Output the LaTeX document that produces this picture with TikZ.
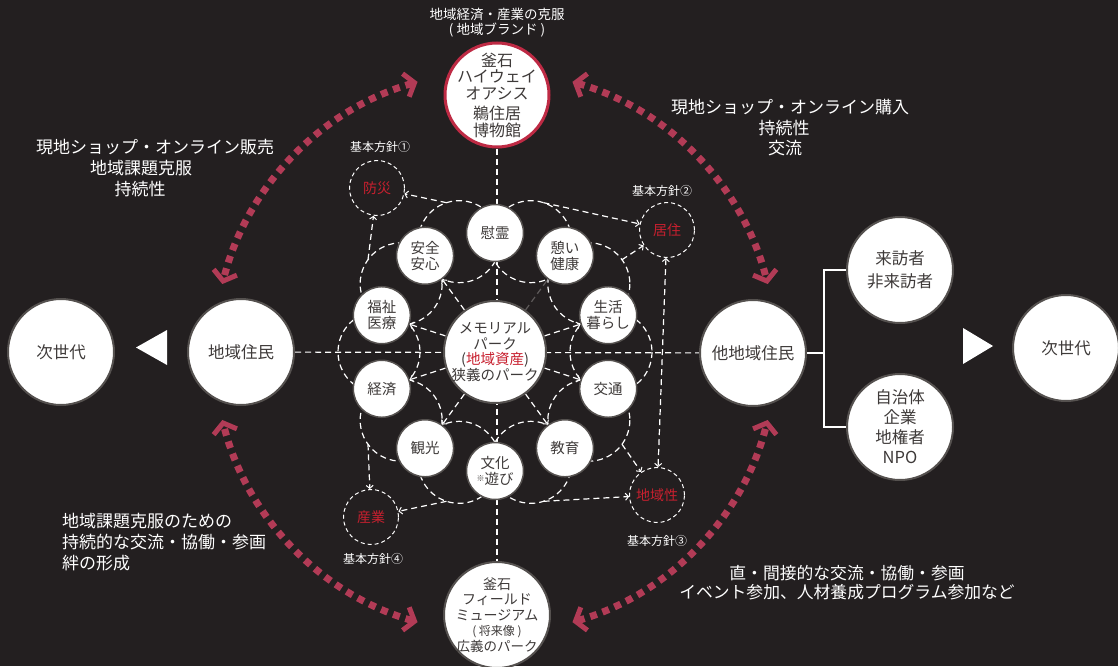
\documentclass[tikz,border=0pt]{standalone}
\usepackage{fontspec}
\setmainfont{Noto Sans CJK JP}
\usetikzlibrary{arrows.meta,calc}
\definecolor{bgc}{HTML}{231F20}
\definecolor{ink}{HTML}{3E3A39}
\definecolor{redt}{HTML}{C8202F}
\definecolor{dotc}{HTML}{B23B56}
\definecolor{ringc}{HTML}{BE2A44}
\definecolor{edgec}{HTML}{55514F}
\definecolor{greyd}{HTML}{5E5A5A}
\pgfdeclarelayer{bgl}
\pgfdeclarelayer{lines}
\pgfsetlayers{bgl,lines,main}
\tikzset{
  bigc/.style={circle,fill=white,draw=edgec,line width=2pt,minimum size=106pt,inner sep=0pt,text=ink,align=center,font=\fontsize{16.5}{20}\selectfont},
  smallc/.style={circle,fill=white,draw=edgec,line width=1.5pt,minimum size=57pt,inner sep=0pt,text=ink,align=center,font=\fontsize{14.5}{16}\selectfont},
  policyc/.style={circle,draw=white,dash pattern=on 4pt off 3pt,line width=1pt,minimum size=55pt,inner sep=0pt,text=redt,font=\fontsize{14}{16}\selectfont},
  wtext/.style={text=white,inner sep=0pt,align=center,font=\fontsize{17}{21}\selectfont},
  stext/.style={text=white,inner sep=0pt,font=\fontsize{12}{14}\selectfont},
  dline/.style={draw=white,line width=1.2pt,dash pattern=on 6pt off 4pt},
  darr/.style={dline,-{Straight Barb[length=3pt,width=7pt,line width=1pt]}},
  dboth/.style={dline,{Straight Barb[length=3pt,width=7pt,line width=1pt]}-{Straight Barb[length=3pt,width=7pt,line width=1pt]}},
  pairc/.style={draw=white,line width=1.2pt,dash pattern=on 6pt off 4pt},
  redarc/.style={draw=dotc,line width=7pt,dash pattern=on 7pt off 6pt,{Straight Barb[length=9pt,width=24pt,line width=5pt]}-{Straight Barb[length=9pt,width=24pt,line width=5pt]}},
  bracket/.style={draw=white,line width=2pt},
  tri/.style={fill=white,draw=none},
}
\begin{document}
\begin{tikzpicture}[x=1pt,y=-1pt]
\begin{pgfonlayer}{bgl}
\fill[bgc] (0,0) rectangle (1118,666);
\end{pgfonlayer}
\useasboundingbox (0,0) rectangle (1118,666);
\coordinate (C) at (495,352);

% main big circles
\node[bigc,draw=ringc,line width=3pt,minimum size=104pt,inner sep=-20pt,font=\fontsize{16}{16.5}\selectfont] (topc) at (497,95) {釜石\\ハイウェイ\\オアシス\\[4pt]鵜住居\\博物館};
\node[bigc,inner sep=-20pt,font=\fontsize{14}{15.5}\selectfont] (botc) at (497,615) {釜石\\フィールド\\ミュージアム\\{\fontsize{12}{14}\selectfont ( 将来像 )}\\{\fontsize{13.5}{15}\selectfont 広義のパーク}};
\node[bigc] (nextl) at (61,352) {次世代};
\node[bigc] (local) at (241,352) {地域住民};
\node[bigc] (other) at (753,353) {他地域住民};
\node[bigc,font=\fontsize{16.5}{23}\selectfont] (visit) at (900,270) {来訪者\\非来訪者};
\node[bigc,font=\fontsize{16.5}{20}\selectfont] (jichi) at (900,427) {自治体\\企業\\地権者\\NPO};
\node[bigc] (nextr) at (1066,348) {次世代};

% center
\node[bigc,minimum size=102pt,inner sep=-20pt,font=\fontsize{14.5}{15.5}\selectfont] (mem) at (C) {メモリアル\\パーク\\(\textcolor{redt}{地域資産})\\狭義のパーク};

% inner nodes
\node[smallc] (irei) at ($(C)+(-90:119)$) {慰霊};
\node[smallc] (anzen) at ($(C)+(-126:119)$) {安全\\安心};
\node[smallc] (fukushi) at ($(C)+(-162:119)$) {福祉\\医療};
\node[smallc] (keizai) at ($(C)+(162:119)$) {経済};
\node[smallc] (kankou) at ($(C)+(126:119)$) {観光};
\node[smallc] (bunka) at ($(C)+(90:119)$) {文化\\\raisebox{3pt}{\fontsize{8}{8}\selectfont ※}遊び};
\node[smallc] (kyouiku) at ($(C)+(54:119)$) {教育};
\node[smallc] (koutsu) at ($(C)+(18:119)$) {交通};
\node[smallc] (seikatsu) at ($(C)+(-18:119)$) {生活\\暮らし};
\node[smallc] (ikoi) at ($(C)+(-54:119)$) {憩い\\健康};

% policy circles
\node[policyc] (bousai) at (377,188) {防災};
\node[policyc] (kyoju) at (667,230) {居住};
\node[policyc] (chiiki) at (657,495) {地域性};
\node[policyc] (sangyou) at (371,517) {産業};
\node[stext] (p1) at (380,147) {基本方針①};
\node[stext] (p2) at (662,191) {基本方針②};
\node[stext] (p3) at (657,541) {基本方針③};
\node[stext] (p4) at (373,559) {基本方針④};

% texts
\node[wtext,font=\fontsize{13.5}{15.5}\selectfont] (toplab) at (497,22.5) {地域経済・産業の克服\\( 地域ブランド )};
\node[wtext] (lt) at (155,168) {現地ショップ・オンライン販売\\地域課題克服\kern28pt\\持続性\kern30pt};
\node[wtext,font=\fontsize{17}{20.5}\selectfont] (rt) at (790,128) {現地ショップ・オンライン購入\\持続性\kern12pt\\交流\kern10pt};
\node[wtext,align=left,anchor=west] (lb) at (62,542) {地域課題克服のための\\持続的な交流・協働・参画\\絆の形成};
\node[wtext,font=\fontsize{16.8}{19.5}\selectfont] (rb) at (847,582.5) {直・間接的な交流・協働・参画\\イベント参加、人材養成プログラム参加など};

% triangles
\fill[tri] (136,347.5) -- (167,330) -- (167,365) -- cycle;
\fill[tri] (963,328) -- (963,364) -- (993,346) -- cycle;

\begin{pgfonlayer}{lines}
% axes
\draw[dline] (topc) -- (botc);
\draw[dline] (local) -- (other);
% ring of pair circles
\foreach \a in {-108,-144,-72,-36,0,36,72,108,144,180}
  \draw[pairc] ($(C)+(\a:116)$) circle[radius=41];
% radial arrows
\foreach \n in {anzen,fukushi,keizai,kankou,kyouiku,koutsu,seikatsu}
  \draw[darr] (mem) -- (\n);
\draw[dline,draw=greyd] (mem) -- (ikoi);
% arrows to policies
\draw[darr] ($(C)+(-108:157)$) -- (bousai);
\draw[darr] ($(C)+(-144:157)$) -- (bousai);
\draw[darr] ($(C)+(-72:157)$) -- (kyoju);
\draw[darr] ($(C)+(-36:157)$) -- (kyoju);
\draw[darr] ($(C)+(36:157)$) -- (chiiki);
\draw[darr] ($(C)+(72:157)$) -- (chiiki);
\draw[darr] ($(C)+(144:157)$) -- (sangyou);
\draw[darr] ($(C)+(108:157)$) -- (sangyou);
\draw[dboth] (kyoju) -- (chiiki);
% bracket
\draw[bracket] (other.east) -- ++(17,0) coordinate (br) |- (visit.west);
\draw[bracket] (br) |- (jichi.west);
\end{pgfonlayer}

% red dotted arcs
\coordinate (a1) at ($(C)+(-106:281)$);
\coordinate (a2) at ($(C)+(-74:281)$);
\coordinate (a3) at ($(C)+(106:281)$);
\coordinate (a4) at ($(C)+(74:281)$);
\draw[redarc] (a1) arc[start angle=-106,end angle=-166,radius=281];
\draw[redarc] (a2) arc[start angle=-74,end angle=-14,radius=281];
\draw[redarc] (a3) arc[start angle=106,end angle=166,radius=281];
\draw[redarc] (a4) arc[start angle=74,end angle=14,radius=281];
\end{tikzpicture}
\end{document}
